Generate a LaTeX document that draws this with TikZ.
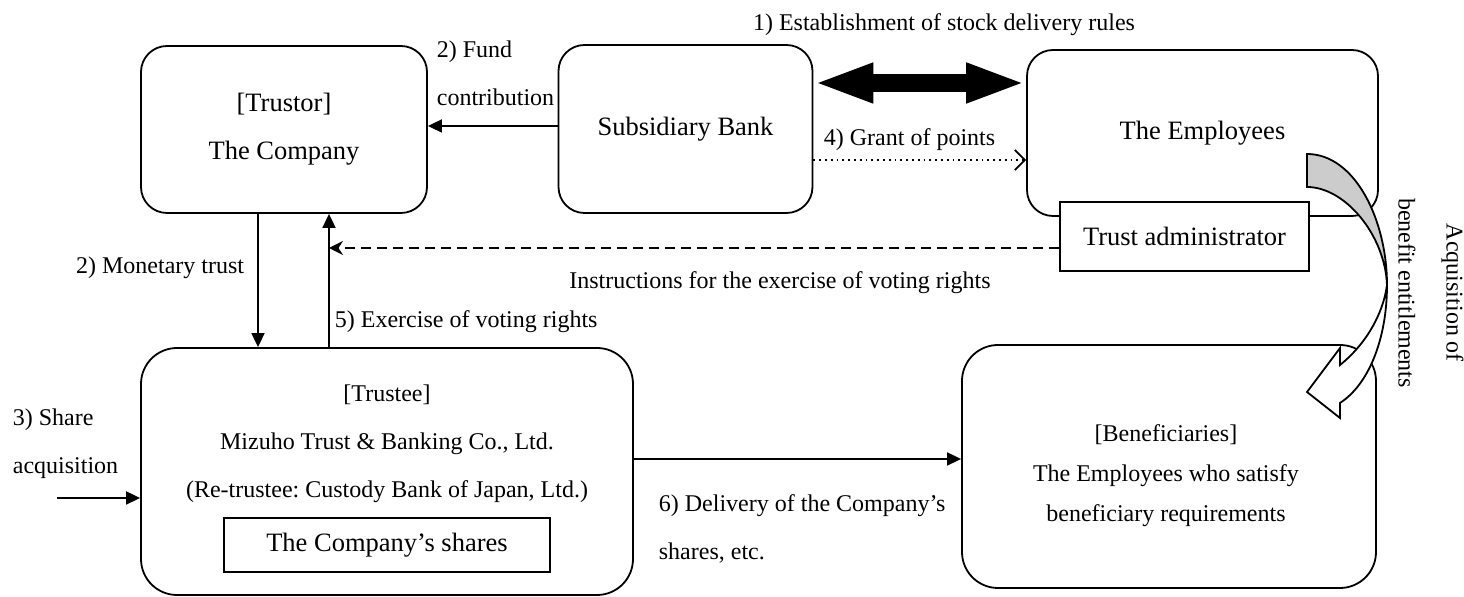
\documentclass[tikz,border=0pt]{standalone}
\usepackage{fontspec}
\setmainfont{Liberation Serif}
\usetikzlibrary{arrows.meta}
\frenchspacing

\newcommand\boxsize{\fontsize{13.25}{24}\selectfont}
\newcommand\labsize{\fontsize{12}{24}\selectfont}

\begin{document}
\begin{tikzpicture}[x=0.5pt, y=-0.5pt, line width=0.9pt, >={Triangle[length=7pt,width=6.5pt]},
	box/.style = {draw, rounded corners=13pt, align=center, font=\boxsize, inner sep=0pt},
	big/.style = {draw, rounded corners=18pt, inner sep=0pt},
	lab/.style = {align=left, font=\labsize, inner sep=0pt}]
	\useasboundingbox (0,0) rectangle (1464,597);
	% top row
	\node[box, minimum width=143pt, minimum height=83.5pt] (company) at (284,129.5) {[Trustor]\\The Company};
	\node[box, minimum width=127pt, minimum height=84pt] (bank) at (685.5,129) {Subsidiary Bank};
	\node[box, minimum width=175.5pt, minimum height=83pt] (staff) at (1202.5,133) {The Employees};
	\node[draw, fill=white, font=\boxsize, minimum width=124.5pt, minimum height=34.5pt] (admin) at (1184.5,236.5) {Trust administrator};
	% bottom row
	\node[big, minimum width=246pt, minimum height=123.5pt] (trustee) at (387,471.5) {};
	\node[lab, align=center] (trusteetxt) at (387,443.5) {[Trustee]\\Mizuho Trust \& Banking Co., Ltd.\\(Re-trustee: Custody Bank of Japan, Ltd.)};
	\node[draw, font=\boxsize, minimum width=163pt, minimum height=27pt] (shares) at (387,545) {The Company’s shares};
	\node[big, minimum width=207pt, minimum height=121.5pt] (benef) at (1169,466.5) {};
	\node[lab, align=center, font=\fontsize{12}{20}\selectfont] (beneftxt) at (1166,476) {[Beneficiaries]\\The Employees who satisfy\\beneficiary requirements};

	% 1)
	\draw[line width=9pt, {Triangle[length=30pt,width=18pt]}-{Triangle[length=30pt,width=18pt]}] (bank.east |- 0,83) -- (staff.west |- 0,83);
	\node[lab] (rules) at (944,25) {1) Establishment of stock delivery rules};
	% 2)
	\draw[->] (bank.west |- 0,126) -- (company.east |- 0,126);
	\node[lab, anchor=west] (fund) at (436,73) {2) Fund\\contribution};
	\draw[->] (company.south -| 258,0) -- (trustee.north -| 258,0);
	\node[lab, anchor=east] (money) at (245,268) {2) Monetary trust};
	% 3)
	\coordinate (market) at (57,498);
	\draw[->] (market) -- (trustee.west |- market);
	\node[lab, anchor=west] (buy) at (12,444) {3) Share\\acquisition};
	% 4)
	\draw[dotted, -{Straight Barb[length=5pt,width=10pt]}] (bank.east |- 0,160) -- (staff.west |- 0,160);
	\node[lab, anchor=west] (points) at (823,140) {4) Grant of points};
	% 5)
	\draw[->] (trustee.north -| 329,0) -- (company.south -| 329,0);
	\node[lab, anchor=west] (vote) at (334,322) {5) Exercise of voting rights};
	\coordinate (voteline) at (329,248);
	\draw[dashed, dash pattern=on 5pt off 3pt, -{Stealth[length=7pt,width=7pt]}] (admin.west |- voteline) -- (voteline);
	\node[lab] (instr) at (780,283) {Instructions for the exercise of voting rights};
	% 6)
	\draw[->] (trustee.east |- 0,459) -- (benef.west |- 0,459);
	\node[lab, anchor=west] (deliver) at (658,528.5) {6) Delivery of the Company’s\\shares, etc.};

	% curved block arrow
	\filldraw[fill=gray!40] (1307,154) .. controls (1355,154) and (1387,220) .. (1387,285)
		.. controls (1385,235) and (1345,187) .. (1307,187) -- cycle;
	\filldraw[fill=white] (1387,285) .. controls (1387,340) and (1368,385) .. (1340,403)
		-- (1340,418) -- (1307,392) -- (1340,348) -- (1340,365)
		.. controls (1365,345) and (1383,315) .. (1387,285) -- cycle;
	\node[lab, align=center, rotate=-90] (gain) at (1431,293) {Acquisition of\\benefit entitlements};
\end{tikzpicture}
\end{document}
